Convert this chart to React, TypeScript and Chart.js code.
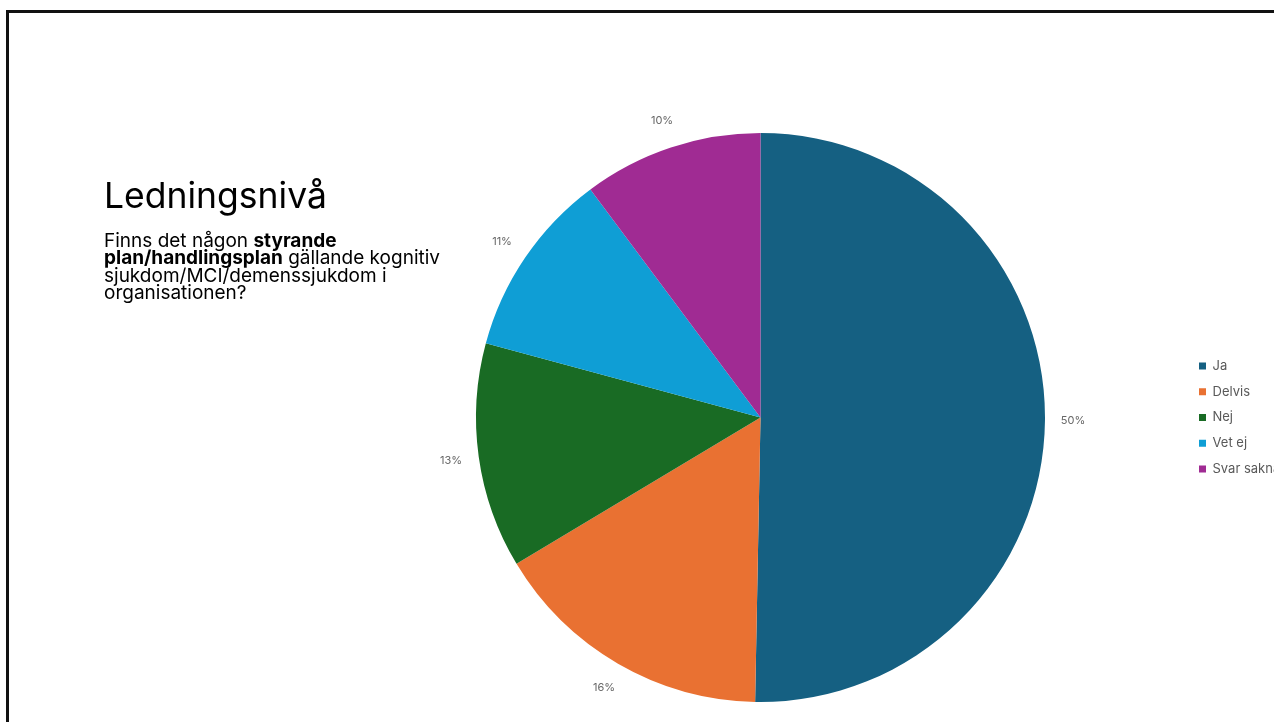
import React, { useEffect, useRef } from "react";
import { Chart, registerables } from "chart.js";

Chart.register(...registerables);

const categories = ["Ja", "Delvis", "Nej", "Vet ej", "Svar saknas"];
const shares = [50.3, 16.1, 12.8, 10.6, 10.2];
const sliceColors = ["#156082", "#E97132", "#196B24", "#0F9ED5", "#A02B93"];

const outsideLabels = {
  id: "outsideLabels",
  afterDatasetsDraw(chart: any) {
    const ctx = chart.ctx;
    const meta = chart.getDatasetMeta(0);
    const data = chart.data.datasets[0].data as number[];
    const total = data.reduce((a, b) => a + b, 0);
    ctx.save();
    ctx.font = "11px Inter, Roboto, sans-serif";
    ctx.fillStyle = "#666666";
    ctx.textAlign = "center";
    ctx.textBaseline = "middle";
    meta.data.forEach((arc: any, i: number) => {
      const p = arc.getProps(["x", "y", "startAngle", "endAngle", "outerRadius"], true);
      const mid = (p.startAngle + p.endAngle) / 2;
      const r = p.outerRadius + 28;
      const lx = p.x + Math.cos(mid) * r;
      const ly = p.y + Math.sin(mid) * r;
      ctx.fillText(Math.round((data[i] / total) * 100) + "%", lx, ly);
    });
    ctx.restore();
  },
};

export default function App() {
  const ref = useRef<HTMLCanvasElement | null>(null);

  useEffect(() => {
    if (!ref.current) return;
    const chart = new Chart(ref.current, {
      type: "pie",
      data: {
        labels: categories,
        datasets: [
          {
            data: shares,
            backgroundColor: sliceColors,
            borderWidth: 0,
            hoverOffset: 0,
          },
        ],
      },
      options: {
        responsive: false,
        animation: false,
        events: [],
        layout: { padding: { left: 334.8, right: 48.8, top: 133, bottom: 20 } },
        plugins: {
          tooltip: { enabled: false },
          legend: {
            position: "right",
            maxWidth: 95,
            labels: {
              boxWidth: 7,
              boxHeight: 7,
              padding: 12.8,
              color: "#595959",
              font: { family: "Inter, Roboto, sans-serif", size: 13 },
            },
          },
        },
      },
      plugins: [outsideLabels],
    });
    return () => chart.destroy();
  }, []);

  return (
    <div
      style={{
        position: "fixed",
        left: 0,
        top: 0,
        width: 1274,
        height: 722,
        overflow: "hidden",
        background: "#ffffff",
      }}
    >
      <div
        style={{
          position: "absolute",
          left: 6,
          top: 10,
          width: 1400,
          height: 800,
          borderTop: "3px solid #111",
          borderLeft: "3px solid #111",
        }}
      />
      <canvas
        ref={ref}
        width={1330}
        height={722}
        style={{ position: "absolute", left: 0, top: 0, width: 1330, height: 722 }}
      />
      <div
        style={{
          position: "absolute",
          left: 104,
          top: 177.5,
          fontFamily: "Inter, sans-serif",
          fontSize: 35.5,
          lineHeight: "35px",
          color: "#000",
          whiteSpace: "nowrap",
        }}
      >
        Ledningsnivå
      </div>
      <div
        style={{
          position: "absolute",
          left: 104,
          top: 232.2,
          fontFamily: "Inter, sans-serif",
          fontSize: 19,
          lineHeight: "17.3px",
          color: "#000",
          whiteSpace: "nowrap",
        }}
      >
        Finns det någon <b>styrande</b>
        <br />
        <b>plan/handlingsplan</b> gällande kognitiv
        <br />
        sjukdom/MCI/demenssjukdom i
        <br />
        organisationen?
      </div>
    </div>
  );
}
